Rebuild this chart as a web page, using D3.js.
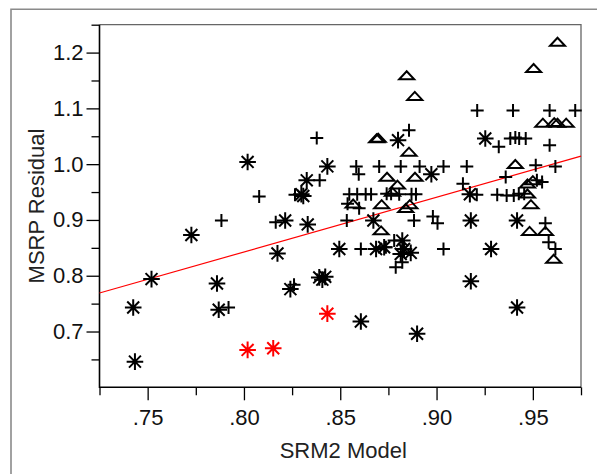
<!DOCTYPE html>
<html>
<head>
<meta charset="utf-8">
<title>MSRP Residual vs SRM2 Model</title>
<script src="https://d3js.org/d3.v7.min.js"></script>
<style>
    body { margin: 0; background: #fff; }
    .axis text { font-family: "Liberation Sans", Arial, sans-serif; font-size: 22px; fill: #111; }
    .axis line { stroke: #000; stroke-width: 1.3px; }
    .axis path { display: none; }
    .title { font-family: "Liberation Sans", Arial, sans-serif; font-size: 22px; fill: #222; }
</style>
</head>
<body>
<div id="chart"></div>
<script>
    // points, [SRM2 model, MSRP residual]
    const starPoints = [
        [0.7425, 0.743], [0.7434, 0.646], [0.7520, 0.794], [0.7727, 0.873],
        [0.7860, 0.786], [0.7869, 0.739], [0.8019, 1.004], [0.8174, 0.840],
        [0.8214, 0.899], [0.8241, 0.776], [0.8308, 0.943], [0.8298, 0.946],
        [0.8326, 0.971], [0.8331, 0.892], [0.8391, 0.797], [0.8422, 0.798],
        [0.8407, 0.793], [0.8433, 0.996], [0.8495, 0.848], [0.8607, 0.718],
        [0.8672, 0.899], [0.8686, 0.848], [0.8728, 0.851], [0.8800, 1.043],
        [0.8822, 0.863], [0.8831, 0.848], [0.8814, 0.839], [0.8866, 0.841],
        [0.8899, 0.696], [0.8973, 0.982], [0.9173, 0.946], [0.9178, 0.899],
        [0.9178, 0.790], [0.9253, 1.046], [0.9283, 0.848], [0.9418, 0.899],
        [0.9418, 0.743]
    ];
    const redStarPoints = [[0.8019, 0.667], [0.8152, 0.670], [0.8433, 0.732]];
    const plusPoints = [
        [0.7883, 0.899], [0.7920, 0.743], [0.8079, 0.942], [0.8165, 0.896],
        [0.8260, 0.784], [0.8265, 0.945], [0.8378, 1.047], [0.8393, 0.971],
        [0.8534, 0.899], [0.8538, 0.929], [0.8547, 0.946], [0.8583, 0.996],
        [0.8596, 0.982], [0.8588, 0.946], [0.8598, 0.921], [0.8607, 0.848],
        [0.8632, 0.946], [0.8660, 0.946], [0.8702, 0.996], [0.8741, 0.947],
        [0.8737, 0.851], [0.8764, 0.947], [0.8780, 0.863], [0.8788, 0.815],
        [0.8822, 0.824], [0.8806, 0.946], [0.8814, 0.996], [0.8857, 1.061],
        [0.8870, 0.946], [0.8883, 0.899], [0.8893, 0.946], [0.8912, 0.996],
        [0.8981, 0.906], [0.9005, 0.894], [0.9036, 0.996], [0.9036, 0.848],
        [0.9137, 0.965], [0.9157, 0.996], [0.9209, 0.945], [0.9211, 1.096],
        [0.9315, 0.945], [0.9323, 1.031], [0.9359, 0.977], [0.9364, 0.944],
        [0.9383, 1.046], [0.9397, 1.096], [0.9401, 0.944], [0.9409, 1.048],
        [0.9427, 0.947], [0.9429, 1.046], [0.9455, 0.947], [0.9463, 1.046],
        [0.9515, 0.998], [0.9521, 0.971], [0.9548, 0.968], [0.9565, 0.894],
        [0.9582, 0.860], [0.9587, 1.096], [0.9587, 1.034], [0.9617, 0.996],
        [0.9617, 0.848], [0.9720, 1.096]
    ];
    const trianglePoints = [
        [0.9628, 1.219], [0.9504, 1.172], [0.8845, 1.159], [0.8887, 1.122],
        [0.8689, 1.046], [0.8697, 1.047], [0.8857, 1.022], [0.8743, 0.977],
        [0.8888, 0.977], [0.8797, 0.963], [0.8771, 0.950], [0.8567, 0.929],
        [0.8715, 0.928], [0.8840, 0.921], [0.8861, 0.928], [0.8712, 0.881],
        [0.9409, 1.000], [0.9472, 0.965], [0.9500, 0.971], [0.9472, 0.947],
        [0.9490, 0.928], [0.9483, 0.880], [0.9565, 0.880], [0.9608, 0.830],
        [0.9552, 1.074], [0.9611, 1.075], [0.9628, 1.074], [0.9673, 1.074]
    ];

    // fitted line: residual = fitIntercept + fitSlope * model
    const fitIntercept = 0.0573;
    const fitSlope = 0.9816;

    const xDomain = [0.725, 0.975];
    const yDomain = [0.6, 1.25];
    const xTicks = [0.75, 0.80, 0.85, 0.90, 0.95];
    const xTickLabels = [".75", ".80", ".85", ".90", ".95"];
    const xMinorTicks = [0.725, 0.775, 0.825, 0.875, 0.925, 0.975];
    const yTicks = [0.7, 0.8, 0.9, 1.0, 1.1, 1.2];
    const yTickLabels = ["0.7", "0.8", "0.9", "1.0", "1.1", "1.2"];
    const yMinorTicks = [0.65, 0.75, 0.85, 0.95, 1.05, 1.15, 1.25];

    const width = 597, height = 474;
    const margin = { top: 24.7, right: 16, bottom: 86.7, left: 99.5 };

    const svg = d3.select("#chart")
        .append("svg")
        .attr("width", width)
        .attr("height", height);

    // outer gray frame (open at right and bottom)
    svg.append("path")
        .attr("d", `M11,${height} V9.3 H${width}`)
        .attr("fill", "none")
        .attr("stroke", "#8a8a8a")
        .attr("stroke-width", 1.6);

    const x = d3.scaleLinear().domain(xDomain).range([margin.left, width - margin.right]);
    const y = d3.scaleLinear().domain(yDomain).range([height - margin.bottom, margin.top]);

    // plot box: top and right in gray
    svg.append("path")
        .attr("d", `M${x.range()[0]},${y.range()[1]} H${x.range()[1]} V${y.range()[0]}`)
        .attr("fill", "none")
        .attr("stroke", "#666")
        .attr("stroke-width", 1.3);

    // minor ticks
    svg.append("g").attr("class", "axis")
        .attr("transform", `translate(0,${y.range()[0]})`)
        .call(d3.axisBottom(x).tickValues(xMinorTicks).tickSize(8).tickFormat(""));
    svg.append("g").attr("class", "axis")
        .attr("transform", `translate(${x.range()[0]},0)`)
        .call(d3.axisLeft(y).tickValues(yMinorTicks).tickSize(8).tickFormat(""));

    // major ticks with labels
    svg.append("g").attr("class", "axis")
        .attr("transform", `translate(0,${y.range()[0]})`)
        .call(d3.axisBottom(x).tickValues(xTicks).tickSize(13).tickPadding(9)
            .tickFormat((d, i) => xTickLabels[i]));
    svg.append("g").attr("class", "axis")
        .attr("transform", `translate(${x.range()[0]},0)`)
        .call(d3.axisLeft(y).tickValues(yTicks).tickSize(13).tickPadding(3)
            .tickFormat((d, i) => yTickLabels[i]));

    // left and bottom axis lines in black
    svg.append("path")
        .attr("d", `M${x.range()[0]},${y.range()[1]} V${y.range()[0]} H${x.range()[1]}`)
        .attr("fill", "none")
        .attr("stroke", "#000")
        .attr("stroke-width", 1.6);

    // axis titles
    svg.append("text")
        .attr("class", "title")
        .attr("x", (x.range()[0] + x.range()[1]) / 2 + 3)
        .attr("y", 458)
        .attr("text-anchor", "middle")
        .text("SRM2 Model");
    svg.append("text")
        .attr("class", "title")
        .attr("transform", `translate(44,${(y.range()[0] + y.range()[1]) / 2}) rotate(-90)`)
        .attr("text-anchor", "middle")
        .text("MSRP Residual");

    // regression line
    const plot = svg.append("g");
    plot.append("line")
        .attr("x1", x(xDomain[0])).attr("y1", y(fitIntercept + fitSlope * xDomain[0]))
        .attr("x2", x(xDomain[1])).attr("y2", y(fitIntercept + fitSlope * xDomain[1]))
        .attr("stroke", "#ff0000")
        .attr("stroke-width", 1.2);

    // marker shapes
    const r = 8.3, k = r * 0.72;
    const starPath = `M0,${-r}V${r}M${-r},0H${r}M${-k},${-k}L${k},${k}M${-k},${k}L${k},${-k}`;
    const plusPath = "M0,-6.5V6.5M-6.5,0H6.5";
    const trianglePath = "M-7.5,3.8H7.5L0,-4.2Z";

    const drawMarkers = (data, path, color) => {
        plot.append("g")
            .selectAll("path")
            .data(data)
            .join("path")
            .attr("transform", d => `translate(${x(d[0])},${y(d[1])})`)
            .attr("d", path)
            .attr("fill", "none")
            .attr("stroke", color)
            .attr("stroke-width", 2);
    };

    drawMarkers(plusPoints, plusPath, "#000");
    drawMarkers(trianglePoints, trianglePath, "#000");
    drawMarkers(starPoints, starPath, "#000");
    drawMarkers(redStarPoints, starPath, "#ff0000");
</script>
</body>
</html>
